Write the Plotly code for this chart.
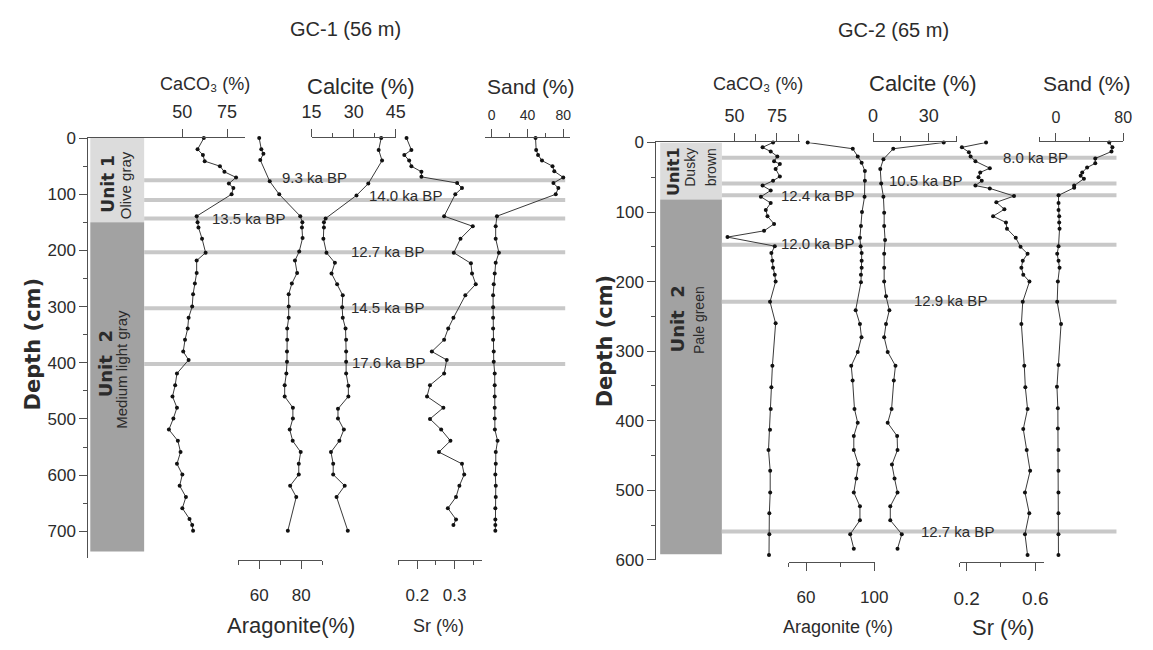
import plotly.graph_objects as go

W, H = 1153, 650

# ---------------- data: GC-1 (56 m) ----------------
gc1_caco3_depth = [0, 20, 30, 41, 50, 60, 70, 81, 89, 100, 139, 150, 159, 179, 204, 218, 240, 259, 278, 300,
                   320, 339, 359, 380, 395, 419, 440, 460, 480, 499, 519, 539, 559, 580, 599, 619, 639, 659, 678, 689, 699]
gc1_caco3 = [62, 58.5, 61.5, 62.5, 71, 73.5, 80, 76, 78.5, 77.5, 58, 58.5, 59, 61, 63, 58, 58, 57, 56, 55.5,
             53.5, 53, 51.5, 50.5, 53.5, 47, 46, 44.5, 47, 45, 42.5, 47.5, 49, 47, 50, 48.5, 52, 50, 54, 55.5, 56]

gc1_arag_depth = [0, 20, 28, 39, 77, 100, 139, 150, 159, 178, 202, 218, 240, 259, 278, 300, 320, 339, 359, 380,
                  398, 419, 440, 460, 480, 499, 519, 539, 559, 580, 599, 619, 639, 699]
gc1_arag = [60, 61, 62, 60.5, 65, 69.5, 79.5, 80.5, 80.3, 80.6, 79, 77, 78, 75.5, 74, 74, 74, 73.3, 73.3, 73.2,
            73.2, 72.9, 72.1, 72.1, 76, 76, 74.5, 75.9, 79.7, 78.8, 78.8, 74.7, 77.6, 73.6]

gc1_calc_depth = [0, 21, 40, 81, 102, 143, 150, 159, 179, 204, 222, 241, 260, 280, 301, 320, 339, 359, 380, 398,
                  419, 441, 460, 482, 499, 519, 539, 559, 580, 599, 619, 639, 699]
gc1_calc = [39.8, 38.9, 40.1, 35.2, 31, 20, 19.4, 19.4, 19.2, 20.3, 23.3, 22.1, 24.1, 26.1, 25.9, 26.1, 27.1, 27.3, 27.3, 27.3,
            27.3, 28.1, 28.1, 24.4, 24.4, 26.5, 24.9, 21.9, 22.7, 22.7, 26.8, 23.9, 27.9]

gc1_sr_depth = [0, 21, 30, 40, 50, 60, 69, 80, 89, 100, 139, 157, 179, 204, 223, 241, 260, 280, 320, 339,
                359, 380, 395, 419, 440, 460, 480, 500, 519, 539, 559, 580, 599, 619, 639, 659, 679, 689]
gc1_sr = [0.171, 0.184, 0.165, 0.178, 0.184, 0.211, 0.211, 0.307, 0.32, 0.302, 0.272, 0.349, 0.316, 0.298, 0.344, 0.347, 0.357, 0.329, 0.297, 0.283,
          0.272, 0.239, 0.279, 0.272, 0.234, 0.226, 0.27, 0.234, 0.264, 0.289, 0.258, 0.32, 0.326, 0.313, 0.304, 0.282, 0.304, 0.297]

gc1_sand_depth = [0, 21, 30, 40, 50, 59, 70, 80, 89, 100, 139, 157, 179, 204, 222, 241, 260, 280, 301, 320,
                  339, 359, 380, 398, 419, 440, 460, 480, 499, 519, 539, 559, 580, 599, 619, 639, 659, 679, 689, 699]
gc1_sand = [49, 49.7, 51.8, 56.2, 68, 70, 80, 69, 74.5, 71.6, 5.8, 4.4, 4.4, 8, 4.4, 3.3, 2.2, 1.5, 1.5, 1.5,
            1.5, 1.5, 2.2, 2.2, 3.3, 3.3, 3.3, 3.3, 3.3, 3.5, 6.5, 4.5, 4.5, 4, 4.5, 4.5, 4, 4, 4, 4]

gc1_age_depth = [75, 110, 143, 203, 303, 402]
gc1_age_label = ["9.3 ka BP", "14.0 ka BP", "13.5 ka BP", "12.7 ka BP", "14.5 ka BP", "17.6 ka BP"]
gc1_unit_bounds = [0, 150, 736]
gc1_unit_name = ["Unit 1", "Unit  2"]
gc1_unit_desc = ["Olive gray", "Medium light gray"]

# ---------------- data: GC-2 (65 m) ----------------
gc2_caco3_depth = [0, 7, 13, 20, 27, 31, 38, 49, 55, 62, 69, 78, 87, 97, 106, 117, 127, 136, 149, 159,
                   170, 180, 190, 200, 229, 260, 321, 352, 383, 413, 442, 472, 503, 533, 563, 593]
gc2_caco3 = [72.7, 66.5, 71.3, 75.2, 73.3, 76.7, 74.2, 76.7, 72.7, 66.5, 71.3, 65.5, 71.3, 68.4, 69.4, 73.3, 67.4, 45.8, 73.7, 71.7,
             72.3, 72.7, 73.7, 74.2, 70.9, 74.2, 72.3, 71.7, 71.3, 70.9, 70, 71, 71, 70.5, 70.5, 70.3]

gc2_arag_depth = [0, 9, 20, 29, 41, 55, 78, 100, 120, 137, 149, 159, 170, 180, 190, 201, 241, 261, 280, 301,
                  321, 342, 383, 403, 422, 442, 463, 483, 503, 523, 543, 563, 584]
gc2_arag = [61, 87.4, 90.3, 92.6, 94.5, 94.5, 94.3, 92.8, 92.2, 91.6, 92, 92.6, 92.6, 92.6, 92.2, 92.2, 89.1, 91.6, 92.5, 90.3,
            86.5, 87.3, 88.4, 90.3, 88, 88, 90.7, 89.5, 88, 91.6, 91.6, 85.9, 88]

gc2_calc_depth = [0, 9, 24, 38, 59, 78, 101, 120, 140, 160, 180, 200, 221, 241, 261, 280, 301, 321, 342, 383,
                  403, 422, 442, 463, 483, 503, 523, 543, 563, 584]
gc2_calc = [38.1, 10.9, 5.6, 3.9, 4.4, 5.6, 6, 6, 6.5, 6, 6, 6, 7, 8.8, 7, 6, 7.9, 12.1, 11.2, 10,
            7.9, 13, 13.2, 10.2, 11.6, 13.2, 9.3, 9.3, 15.5, 13.2]

gc2_sr_depth = [0, 7, 14, 20, 27, 37, 43, 50, 55, 62, 66, 77, 86, 96, 106, 115, 124, 137, 150, 160,
                170, 180, 190, 200, 229, 261, 321, 352, 383, 412, 442, 472, 503, 533, 563, 593]
gc2_sr = [0.313, 0.172, 0.213, 0.223, 0.251, 0.335, 0.279, 0.269, 0.288, 0.251, 0.335, 0.476, 0.373, 0.42, 0.354, 0.429, 0.435, 0.486, 0.514, 0.555,
          0.527, 0.519, 0.53, 0.566, 0.527, 0.519, 0.536, 0.542, 0.555, 0.53, 0.55, 0.57, 0.54, 0.565, 0.54, 0.555]

gc2_sand_depth = [0, 7, 13, 23, 30, 36, 43, 48, 52, 62, 65, 76, 87, 97, 106, 115, 124, 149, 160, 170,
                  180, 200, 229, 261, 320, 351, 382, 411, 442, 472, 503, 533, 563, 593]
gc2_sand = [63.4, 67.2, 66.1, 46.8, 46.8, 37.1, 31.3, 29.4, 33.3, 21.7, 21.7, 3.1, 3.1, 3.1, 3.9, 3.9, 4.3, 3.1, 1.5, 3.1,
            4.3, 2.3, 1.5, 6.1, 3.1, 1.2, 2.3, 2.3, 3, 3, 3, 3, 3, 3]

gc2_age_depth = [22, 59, 76, 147, 229, 559]
gc2_age_label = ["8.0 ka BP", "10.5 ka BP", "12.4 ka BP", "12.0 ka BP", "12.9 ka BP", "12.7 ka BP"]
gc2_unit_bounds = [0, 82, 592]
gc2_unit_name = ["Unit1", "Unit  2"]
gc2_unit_desc = [["Dusky", "brown"], ["Pale green"]]

# ---------------- styling ----------------
INK = "#2b2b2b"
AXC = "#505050"
LINEC = "#3a3a3a"
DOTC = "#111111"
AGEC = "#c8c8c8"
UNIT_COLORS = ["#dcdcdc", "#a2a2a2"]
NARROW = "Liberation Sans Narrow, Arial Narrow, Liberation Sans, Arial, sans-serif"
REG = "Liberation Sans, Arial, sans-serif"
WIDE = "DejaVu Sans, Verdana, sans-serif"
CACO3 = "CaCO\u2083 (%)"


def fx(p):
    return p / W


def fy(p):
    return 1 - p / H


panels = [
    dict(yid="y", ykey="yaxis", top=133, bottom=566, depth_max=748.4,
         ymajor=list(range(0, 701, 100)), yminor=list(range(50, 651, 100)),
         box=(82, 137), units=gc1_unit_bounds, age_depth=gc1_age_depth, age_label=gc1_age_label,
         age_px=[311, 404, 244, 386, 386, 387], age_shift=[3, 4, 0, 1, 1, 1], age_line=(137, 567),
         bottom_px=568,
         series=[
             dict(x=gc1_caco3, y=gc1_caco3_depth, px=(80, 240), rng=(-2.5, 85), side="top",
                  major=[50, 75], minor=[], mlen=4, fs=18),
             dict(x=gc1_arag, y=gc1_arag_depth, px=(233, 319), rng=(50, 90), side="bottom",
                  major=[60, 80], minor=[50, 70, 90], mlen=4, fs=17),
             dict(x=gc1_calc, y=gc1_calc_depth, px=(308, 394), rng=(15, 45), side="top",
                  major=[15, 30, 45], minor=[22.5, 37.5], mlen=4, fs=18),
             dict(x=gc1_sr, y=gc1_sr_depth, px=(396, 482), rng=(0.1474, 0.3737), side="bottom",
                  major=[0.2, 0.3], minor=[0.15, 0.25, 0.35], mlen=4, fs=17),
             dict(x=gc1_sand, y=gc1_sand_depth, px=(485, 572), rng=(-7.67, 87.67), side="top",
                  major=[0, 40, 80], minor=[20, 60], mlen=4, fs=14),
         ],
         titles=[(CACO3, 199, 77, 18), ("Calcite (%)", 358, 80, 22), ("Sand (%)", 532, 80, 21),
                 ("Aragonite(%)", 287, 635, 22), ("Sr (%)", 438, 636, 18)],
         head=("GC-1 (56 m)", 343, 21), depth_title=(23, 345),
         unit_text=[(gc1_unit_name[0], 100, 180, 17, True), (gc1_unit_desc[0], 118, 182, 15, False),
                    (gc1_unit_name[1], 97, 365, 18, True), (gc1_unit_desc[1], 114, 371, 15, False)]),
    dict(yid="y2", ykey="yaxis2", top=137.5, bottom=567.5, depth_max=600,
         ymajor=list(range(0, 601, 100)), yminor=list(range(50, 551, 100)),
         box=(664, 727), units=gc2_unit_bounds, age_depth=gc2_age_depth, age_label=gc2_age_label,
         age_px=[1047, 935, 825, 825, 960, 968], age_shift=[0, 3, 0, 1, 1, 0], age_line=(727, 1130),
         bottom_px=570,
         series=[
             dict(x=gc2_caco3, y=gc2_caco3_depth, px=(660, 807), rng=(3.8, 88.7), side="top",
                  major=[50, 75], minor=[62.5, 87.5], mlen=7, fs=18),
             dict(x=gc2_arag, y=gc2_arag_depth, px=(795.5, 883), rng=(50, 100.2), side="bottom",
                  major=[60, 100], minor=[50, 80], mlen=4, fs=17),
             dict(x=gc2_calc, y=gc2_calc_depth, px=(881, 967), rng=(-0.2, 45.2), side="top",
                  major=[0, 30], minor=[15, 45], mlen=5, fs=18),
             dict(x=gc2_sr, y=gc2_sr_depth, px=(970, 1056), rng=(0.16, 0.651), side="bottom",
                  major=[0.2, 0.6], minor=[0.161, 0.4], mlen=4, fs=19),
             dict(x=gc2_sand, y=gc2_sand_depth, px=(1051, 1137), rng=(-20, 80.2), side="top",
                  major=[0, 80], minor=[-19.9, 40], mlen=4, fs=16),
         ],
         titles=[(CACO3, 764, 77, 18), ("Calcite (%)", 932, 77, 22), ("Sand (%)", 1100, 77, 21),
                 ("Aragonite (%)", 846, 637, 18), ("Sr (%)", 1014, 637, 22)],
         head=("GC-2 (65 m)", 902, 22), depth_title=(608, 342),
         unit_text=[(gc2_unit_name[0], 677, 167, 16, True), (gc2_unit_desc[0][0], 695, 163, 14, False),
                    (gc2_unit_desc[0][1], 716, 163, 14, False),
                    (gc2_unit_name[1], 682, 319, 18, True), (gc2_unit_desc[1][0], 703, 320, 14, False)]),
]


def fmt(v):
    return ("%g" % v)


fig = go.Figure()
lay = dict(width=W, height=H, margin=dict(l=0, r=0, t=0, b=0, pad=0), paper_bgcolor="white",
           plot_bgcolor="rgba(0,0,0,0)", showlegend=False, shapes=[], annotations=[],
           font=dict(family=NARROW, color=INK))

n = 0
for P in panels:
    first_xid = None
    for S in P["series"]:
        n += 1
        xid = "x" if n == 1 else f"x{n}"
        xkey = "xaxis" if n == 1 else f"xaxis{n}"
        if first_xid is None:
            first_xid = xid
        ax = dict(domain=[fx(S["px"][0]), fx(S["px"][1])], range=list(S["rng"]), side=S["side"],
                  showline=True, linecolor=AXC, linewidth=1, ticks="outside", ticklen=8, tickwidth=1,
                  tickcolor=AXC, tickmode="array", tickvals=S["major"],
                  ticktext=[fmt(v) for v in S["major"]],
                  tickfont=dict(family=NARROW, size=S["fs"], color=INK), showgrid=False, zeroline=False,
                  fixedrange=True)
        if S["minor"]:
            ax["minor"] = dict(tickmode="array", tickvals=S["minor"], ticks="outside", ticklen=S["mlen"],
                               tickwidth=1, tickcolor=AXC, showgrid=False)
        if S["side"] == "top":
            ax["anchor"] = P["yid"]
            ax["ticklabelstandoff"] = 4
        else:
            ax["anchor"] = "free"
            ax["position"] = fy(P["bottom_px"])
            ax["ticklabelstandoff"] = 11
        lay[xkey] = ax
        fig.add_trace(go.Scatter(x=S["x"], y=S["y"], xaxis=xid, yaxis=P["yid"], mode="lines+markers",
                                 line=dict(color=LINEC, width=1), marker=dict(size=4, color=DOTC),
                                 hoverinfo="skip", cliponaxis=False))

    lay[P["ykey"]] = dict(domain=[fy(P["bottom"]), fy(P["top"])], range=[P["depth_max"], 0],
                          anchor=first_xid, side="left", showline=True, linecolor=AXC, linewidth=1,
                          ticks="outside", ticklen=8, tickwidth=1, tickcolor=AXC, tickmode="array",
                          tickvals=P["ymajor"], ticktext=[str(v) for v in P["ymajor"]],
                          minor=dict(tickmode="array", tickvals=P["yminor"], ticks="outside", ticklen=4,
                                     tickwidth=1, tickcolor=AXC, showgrid=False),
                          tickfont=dict(family=NARROW, size=17, color=INK), showgrid=False,
                          zeroline=False, fixedrange=True)

    # lithological units
    for i in range(len(P["units"]) - 1):
        lay["shapes"].append(dict(type="rect", xref="paper", yref=P["yid"], x0=fx(P["box"][0]),
                                  x1=fx(P["box"][1]), y0=P["units"][i], y1=P["units"][i + 1],
                                  fillcolor=UNIT_COLORS[i], line=dict(width=0), layer="below"))
    # age horizons
    for d, lab, xp, sh in zip(P["age_depth"], P["age_label"], P["age_px"], P["age_shift"]):
        lay["shapes"].append(dict(type="line", xref="paper", yref=P["yid"], x0=fx(P["age_line"][0]),
                                  x1=fx(P["age_line"][1]), y0=d, y1=d,
                                  line=dict(color=AGEC, width=4), layer="below"))
        lay["annotations"].append(dict(xref="paper", yref=P["yid"], x=fx(xp), y=d, text=lab,
                                       showarrow=False, xanchor="center", yanchor="middle", yshift=sh,
                                       font=dict(family=NARROW, size=15, color=INK)))
    # axis titles
    for txt, xp, yp, fs in P["titles"]:
        lay["annotations"].append(dict(xref="paper", yref="paper", x=fx(xp), y=fy(yp), text=txt,
                                       showarrow=False, xanchor="center", yanchor="middle",
                                       font=dict(family=NARROW, size=fs, color=INK)))
    txt, xp, yp = P["head"]
    lay["annotations"].append(dict(xref="paper", yref="paper", x=fx(xp), y=fy(yp), text=txt,
                                   showarrow=False, xanchor="center", yanchor="middle",
                                   font=dict(family=REG, size=20, color=INK)))
    xp, yp = P["depth_title"]
    lay["annotations"].append(dict(xref="paper", yref="paper", x=fx(xp), y=fy(yp), text="<b>Depth (cm)</b>",
                                   showarrow=False, xanchor="center", yanchor="middle", textangle=-90,
                                   font=dict(family=WIDE, size=21, color=INK)))
    for txt, xp, yp, fs, bold in P["unit_text"]:
        lay["annotations"].append(dict(xref="paper", yref="paper", x=fx(xp), y=fy(yp),
                                       text=f"<b>{txt}</b>" if bold else txt,
                                       showarrow=False, xanchor="center", yanchor="middle", textangle=-90,
                                       font=dict(family=WIDE if bold else NARROW, size=fs, color=INK)))

fig.update_layout(**lay)
fig.write_html("out.html", config={"displayModeBar": False},
               post_script="document.body.style.margin='0';document.body.style.overflow='hidden';")
